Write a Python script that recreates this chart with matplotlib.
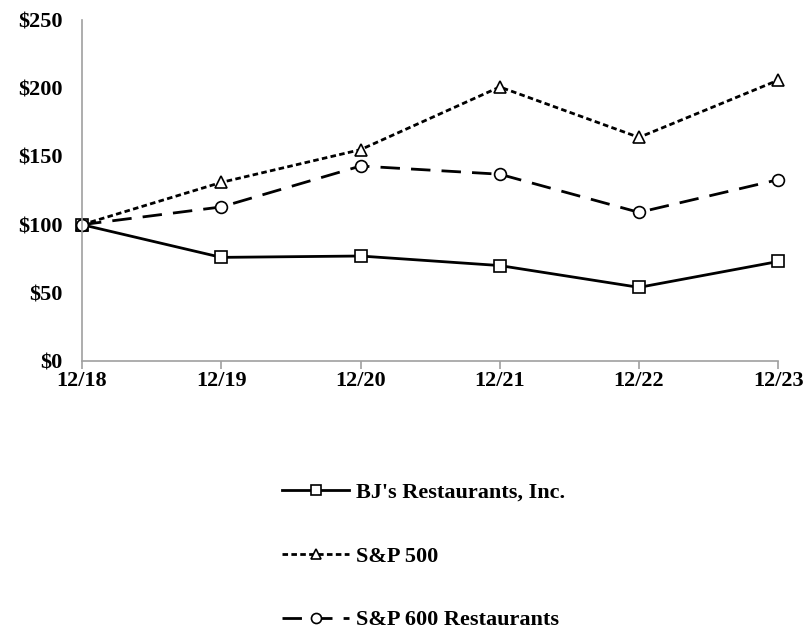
import matplotlib.pyplot as plt
import numpy as np

years = ['12/18', '12/19', '12/20', '12/21', '12/22', '12/23']
bjs = [100, 76, 77, 70, 54, 73]
sp500 = [100, 131, 155, 201, 164, 206]
sp600_rest = [100, 113, 143, 137, 109, 133]

plt.rcParams['font.family'] = ['Liberation Serif', 'DejaVu Serif']
plt.rcParams['font.weight'] = 'bold'

fig = plt.figure(figsize=(8.04, 6.3), dpi=100)
ax = fig.add_axes([0.102, 0.427, 0.866, 0.541])

x = np.arange(len(years))
style = dict(color='black', lw=2, ms=8.5, mfc='white', mec='black', mew=1.2, clip_on=False)
ax.plot(x, bjs, ls='-', marker='s', label="BJ's Restaurants, Inc.", **style)
ax.plot(x, sp500, ls=(0, (2, 1.2)), marker='^', label='S&P 500', **style)
ax.plot(x, sp600_rest, ls=(0, (7, 4)), marker='o', label='S&P 600 Restaurants', **style)

ax.set_xlim(0, len(years) - 1)
ax.set_ylim(0, 250)
ax.set_yticks(np.arange(0, 251, 50))
ax.set_yticklabels(['$%d' % v for v in range(0, 251, 50)], fontsize=16, fontweight='bold')
ax.set_xticks(x)
ax.set_xticklabels(years, fontsize=16, fontweight='bold')

for s in ['top', 'right']:
    ax.spines[s].set_visible(False)
for s in ['left', 'bottom']:
    ax.spines[s].set_color('#a0a0a0')
    ax.spines[s].set_linewidth(1.2)
ax.tick_params(axis='y', length=0, pad=14)
ax.tick_params(axis='x', length=6, color='#a0a0a0', width=1.2, pad=1)

leg = fig.legend(loc='center', bbox_to_anchor=(0.527, 0.117), frameon=False,
                 fontsize=16, labelspacing=1.95, handlelength=3.0,
                 handletextpad=0.3, markerscale=0.85)
for t in leg.get_texts():
    t.set_fontweight('bold')

fig.savefig('out.png', dpi=100)
